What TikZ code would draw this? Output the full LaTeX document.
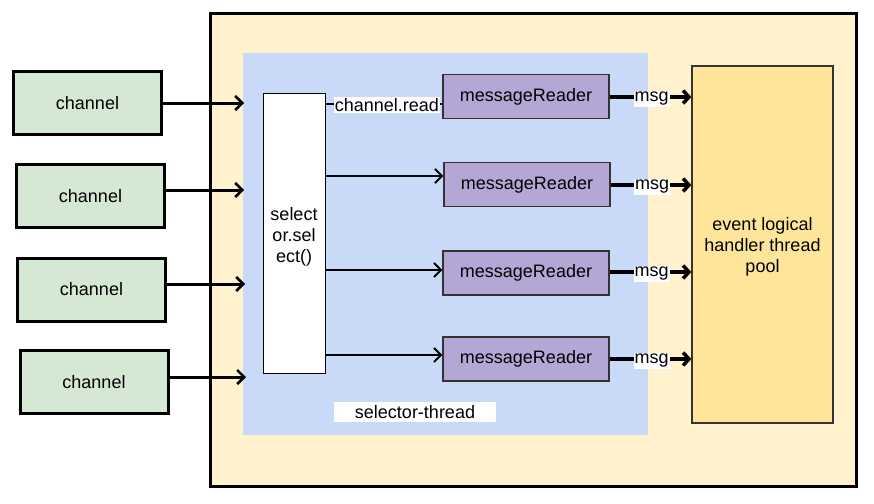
\documentclass[tikz,border=0pt]{standalone}
\usepackage{fontspec}
\setmainfont{Liberation Sans}
\usetikzlibrary{arrows.meta}
\definecolor{outerfill}{HTML}{FFF2CC}
\definecolor{bluefill}{HTML}{C9DAF8}
\definecolor{greenfill}{HTML}{D5E8D4}
\definecolor{purplefill}{HTML}{B4A7D6}
\definecolor{eventfill}{HTML}{FFE599}
\begin{document}
\begin{tikzpicture}[x=1pt,y=-1pt,
  every node/.style={font=\fontsize{18}{21}\selectfont},
  chan/.style={draw=black,line width=3pt,fill=greenfill,minimum width=148pt,minimum height=63pt,inner sep=0pt},
  reader/.style={draw=black!80,line width=1.2pt,fill=purplefill,minimum width=166pt,minimum height=44pt,inner sep=0pt},
  thickarrow/.style={line width=3pt,-{Straight Barb[length=7pt,width=14pt,line width=2.5pt]}},
  thinarrow/.style={line width=2pt,-{Straight Barb[length=7pt,width=14pt,line width=2pt]}},
  msgarrow/.style={line width=3.5pt,-{Straight Barb[length=6pt,width=13pt,line width=3.5pt]}},
  lbl/.style={fill=white,inner sep=1.5pt}]
\useasboundingbox (0,0) rectangle (874,503);
% outer container
\node[draw=black,line width=3pt,fill=outerfill,minimum width=646pt,minimum height=472pt,inner sep=0pt] (outer) at (533,250) {};
% blue selector-thread region
\node[fill=bluefill,minimum width=405pt,minimum height=382pt,inner sep=0pt] (blue) at (445.5,244) {};
% channels
\node[chan] (c1) at (87.5,103) {channel};
\node[chan] (c2) at (90.5,196) {channel};
\node[chan] (c3) at (91.5,289.5) {channel};
\node[chan] (c4) at (94,382) {channel};
% selector box
\node[draw=black,line width=1pt,fill=white,minimum width=62pt,minimum height=280pt,inner sep=0pt] (sel) at (294,233) {};
\node[align=center,inner sep=0pt,yshift=-4pt] (seltxt) at (sel.center) {select\\or.sel\\ect()};
% message readers
\node[reader] (m1) at (526,96.5) {messageReader};
\node[reader] (m2) at (527,184.5) {messageReader};
\node[reader] (m3) at (526,273) {messageReader};
\node[reader] (m4) at (526,359) {messageReader};
% event pool
\node[draw=black!80,line width=1.2pt,fill=eventfill,minimum width=141pt,minimum height=357pt,inner sep=0pt] (ev) at (762.5,244.5) {};
\node[align=center,inner sep=0pt,yshift=-2pt] (evtxt) at (ev.center) {event logical\\handler thread\\pool};
% selector-thread label
\node[fill=white,minimum width=162pt,minimum height=20pt,inner sep=0pt] (stl) at (415,412) {selector-thread};
% coordinates at the blue region edge
\coordinate (b1) at (244,103);
\coordinate (b2) at (244,190);
\coordinate (b3) at (245,284);
\coordinate (b4) at (246,377);
\draw[thickarrow] (c1.east |- b1) -- (b1);
\draw[thickarrow] (c2.east |- b2) -- (b2);
\draw[thickarrow] (c3.east |- b3) -- (b3);
\draw[thickarrow] (c4.east |- b4) -- (b4);
% selector to readers
\draw[line width=2pt] (sel.east |- 0,104) -- (m1.west |- 0,104) node[lbl,midway,xshift=3pt,yshift=-1pt,inner sep=1pt] {channel.read};
\draw[thinarrow] (sel.east |- 0,176) -- (m2.west |- 0,176);
\draw[thinarrow] (sel.east |- 0,270) -- (m3.west |- 0,270);
\draw[thinarrow] (sel.east |- 0,355) -- (m4.west |- 0,355);
% readers to event pool
\draw[msgarrow] (m1.east |- 0,97) -- (ev.west |- 0,97) node[lbl,midway,inner sep=1pt,xshift=1pt,yshift=-2pt] {msg};
\draw[msgarrow] (m2.east |- 0,185) -- (ev.west |- 0,185) node[lbl,midway,inner sep=1pt,xshift=1pt,yshift=-2pt] {msg};
\draw[msgarrow] (m3.east |- 0,272) -- (ev.west |- 0,272) node[lbl,midway,inner sep=1pt,xshift=1pt,yshift=-2pt] {msg};
\draw[msgarrow] (m4.east |- 0,359) -- (ev.west |- 0,359) node[lbl,midway,inner sep=1pt,xshift=1pt,yshift=-2pt] {msg};
\end{tikzpicture}
\end{document}
